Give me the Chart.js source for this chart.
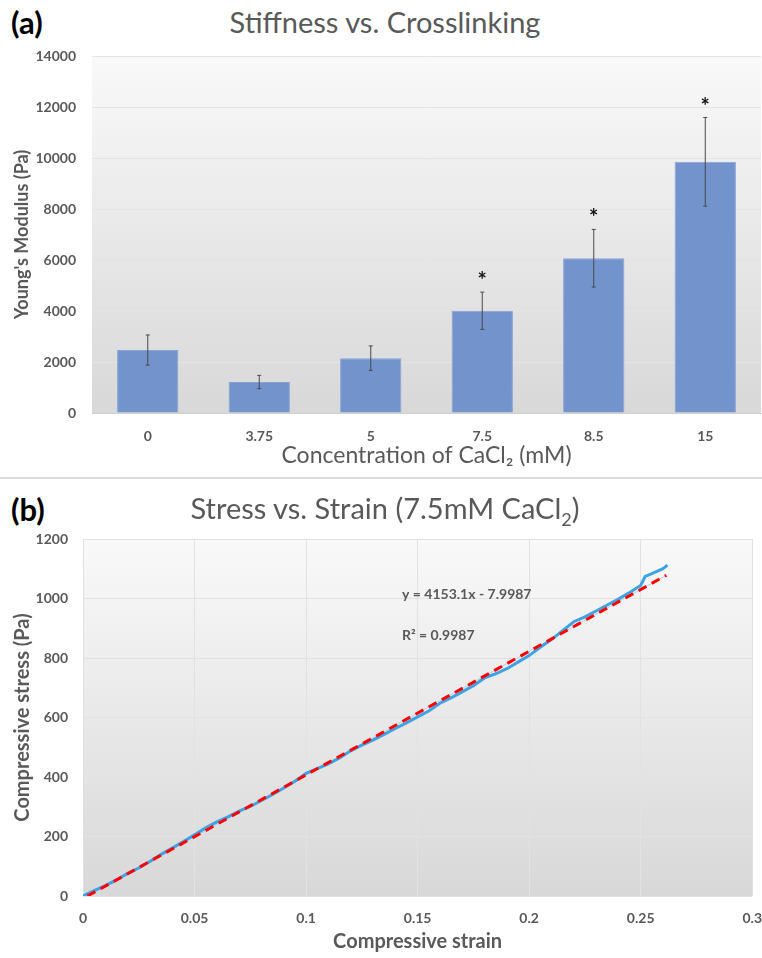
<!DOCTYPE html>
<html>
<head>
<meta charset="utf-8">
<script src="https://cdn.jsdelivr.net/npm/chart.js@4.4.1/dist/chart.umd.min.js"></script>
<style>
  body { margin: 0; background: #fff; font-family: Lato, "Open Sans", sans-serif; }
  #page { position: relative; width: 762px; height: 958px; overflow: hidden; }
  .panel { position: absolute; left: 0; width: 762px; }
  .tag { position: absolute; left: 11px; font-weight: bold; font-size: 31px; color: #000; }
  .title { position: absolute; left: 0; width: 770px; text-align: center; font-size: 29px; color: #595959; }
  .title sub { font-size: 18px; }
  #sep { position: absolute; left: 0; top: 477px; width: 762px; height: 2px; background: #dcdcdc; }
</style>
</head>
<body>
<div id="page">
  <div class="tag" style="top:3px">(a)</div>
  <div class="title" style="top:4px">Stiffness vs. Crosslinking</div>
  <div class="panel" style="top:40px;height:440px"><canvas id="barChart" width="762" height="440"></canvas></div>
  <div id="sep"></div>
  <div class="tag" style="top:490px">(b)</div>
  <div class="title" style="top:490px">Stress vs. Strain (7.5mM CaCl<sub>2</sub>)</div>
  <div class="panel" style="top:480px;height:478px"><canvas id="lineChart" width="762" height="478"></canvas></div>
</div>
<script>
// (a) Young's modulus by CaCl2 concentration
const concLabels = ['0', '3.75', '5', '7.5', '8.5', '15'];
const modulus = [2470, 1215, 2150, 4010, 6070, 9850];
const modulusErr = [590, 260, 480, 730, 1130, 1740];
const significant = [false, false, false, true, true, true];
const modulusTicks = [0, 2000, 4000, 6000, 8000, 10000, 12000, 14000];

// (b) stress-strain curve at 7.5 mM
const strain = [0, 0.005, 0.01, 0.015, 0.02, 0.025, 0.03, 0.035, 0.04, 0.045, 0.05, 0.055, 0.06, 0.065, 0.07,
  0.075, 0.08, 0.085, 0.09, 0.095, 0.1, 0.105, 0.11, 0.115, 0.12, 0.125, 0.13, 0.135, 0.14, 0.145, 0.15,
  0.155, 0.16, 0.165, 0.17, 0.175, 0.18, 0.185, 0.19, 0.195, 0.2, 0.205, 0.21, 0.215, 0.22, 0.225, 0.23,
  0.235, 0.24, 0.245, 0.25, 0.252, 0.255, 0.26, 0.262];
const stress = [0, 18, 35, 54, 76, 94, 116, 140, 161, 183, 206, 229, 249, 266, 285,
  301, 321, 341, 363, 386, 412, 428, 444, 464, 488, 507, 524, 543, 563, 582, 602,
  622, 648, 666, 686, 707, 733, 747, 764, 786, 808, 836, 862, 892, 922, 938, 958,
  978, 998, 1020, 1044, 1074, 1084, 1100, 1112];
const fitStrain = [0.002, 0.2615];
const fitStress = [0, 1078];
const strainTicks = [0, 0.05, 0.1, 0.15, 0.2, 0.25, 0.3];
const stressTicks = [0, 200, 400, 600, 800, 1000, 1200];
const fitEquation = 'y = 4153.1x - 7.9987';
const fitR2 = 'R\u00b2 = 0.9987';

Chart.defaults.font.family = 'Lato, "Open Sans", sans-serif';
Chart.defaults.color = '#595959';

const plotBackground = {
  id: 'plotBackground',
  beforeDraw(chart) {
    const { ctx, chartArea: a } = chart;
    const g = ctx.createLinearGradient(0, a.top, 0, a.bottom);
    g.addColorStop(0, '#f9f9f9');
    g.addColorStop(1, '#d8d8d8');
    ctx.save();
    ctx.fillStyle = g;
    ctx.fillRect(a.left, a.top, a.right - a.left, a.bottom - a.top);
    ctx.restore();
  }
};

const errorBars = {
  id: 'errorBars',
  afterDatasetsDraw(chart) {
    const { ctx } = chart;
    const y = chart.scales.y;
    const bars = chart.getDatasetMeta(0).data;
    ctx.save();
    bars.forEach((bar, i) => {
      const top = y.getPixelForValue(modulus[i] + modulusErr[i]);
      const bot = y.getPixelForValue(modulus[i] - modulusErr[i]);
      ctx.strokeStyle = '#4a4a4a';
      ctx.lineWidth = 1;
      ctx.beginPath();
      ctx.moveTo(bar.x, top); ctx.lineTo(bar.x, bot);
      ctx.moveTo(bar.x - 2, top); ctx.lineTo(bar.x + 2, top);
      ctx.moveTo(bar.x - 2, bot); ctx.lineTo(bar.x + 2, bot);
      ctx.stroke();
      if (significant[i]) {
        ctx.fillStyle = '#111';
        ctx.font = 'bold 22px Lato, sans-serif';
        ctx.textAlign = 'center';
        ctx.textBaseline = 'middle';
        ctx.fillText('*', bar.x, top - 11);
      }
    });
    ctx.restore();
  }
};

// tick marks kept invisible, their length only spaces the labels from the axis
const hiddenTicks = len => ({ drawTicks: true, tickLength: len, tickColor: 'rgba(0,0,0,0)' });

new Chart(document.getElementById('barChart'), {
  type: 'bar',
  data: {
    labels: concLabels,
    datasets: [{
      data: modulus,
      backgroundColor: '#7293cb',
      borderColor: '#86a3d6',
      borderWidth: 1,
      barPercentage: 0.55,
      categoryPercentage: 1
    }]
  },
  options: {
    responsive: false,
    animation: false,
    layout: { padding: { top: 16, right: 1, left: 0, bottom: 0 } },
    plugins: { legend: { display: false }, tooltip: { enabled: false } },
    scales: {
      x: {
        grid: { drawOnChartArea: false, ...hiddenTicks(15) },
        border: { color: '#d0d0d0' },
        ticks: { padding: 0, font: { size: 14, weight: 'bold' } },
        title: { display: true, text: 'Concentration of CaCl\u2082 (mM)', font: { size: 23 }, padding: { top: 0, bottom: 11 } },
        afterFit: s => { s.height = 67; }
      },
      y: {
        min: 0, max: 14000,
        afterBuildTicks: s => { s.ticks = modulusTicks.map(v => ({ value: v })); },
        grid: { color: '#e4e4e4', ...hiddenTicks(16) },
        border: { display: false },
        ticks: { padding: 0, font: { size: 14, weight: 'bold' }, callback: v => String(v) },
        title: { display: true, text: "Young's Modulus (Pa)", font: { size: 18, weight: 'bold' }, padding: { top: 11, bottom: 0 } },
        afterFit: s => { s.width = 92; }
      }
    }
  },
  plugins: [plotBackground, errorBars]
});

const fitLabel = {
  id: 'fitLabel',
  afterDatasetsDraw(chart) {
    const { ctx } = chart;
    ctx.save();
    ctx.fillStyle = '#595959';
    ctx.font = 'bold 14px Lato, sans-serif';
    ctx.textAlign = 'left';
    ctx.textBaseline = 'middle';
    ctx.fillText(fitEquation, chart.scales.x.getPixelForValue(0.143), chart.scales.y.getPixelForValue(1012));
    ctx.fillText(fitR2, chart.scales.x.getPixelForValue(0.143), chart.scales.y.getPixelForValue(877));
    ctx.restore();
  }
};

new Chart(document.getElementById('lineChart'), {
  type: 'line',
  data: {
    datasets: [
      {
        data: fitStrain.map((x, i) => ({ x, y: fitStress[i] })),
        borderColor: '#ff0000',
        borderWidth: 3,
        borderDash: [9, 6],
        pointRadius: 0,
        order: 0
      },
      {
        data: strain.map((x, i) => ({ x, y: stress[i] })),
        borderColor: '#3fa3e3',
        borderWidth: 3,
        pointRadius: 0,
        order: 1
      },
      {
        data: fitStrain.map((x, i) => ({ x, y: fitStress[i] })),
        borderColor: '#b3cde8',
        borderWidth: 1,
        pointRadius: 0,
        order: 2
      }
    ]
  },
  options: {
    responsive: false,
    animation: false,
    layout: { padding: { top: 59, right: 0, left: 0, bottom: 0 } },
    plugins: { legend: { display: false }, tooltip: { enabled: false } },
    scales: {
      x: {
        type: 'linear', min: 0, max: 0.3,
        afterBuildTicks: s => { s.ticks = strainTicks.map(v => ({ value: v })); },
        grid: { color: '#e2e2e2', ...hiddenTicks(14) },
        border: { display: false },
        ticks: { padding: 0, font: { size: 14, weight: 'bold' }, callback: v => String(v) },
        title: { display: true, text: 'Compressive strain', font: { size: 20, weight: 'bold' }, padding: { top: 0, bottom: 4 } },
        afterFit: s => { s.height = 62; }
      },
      y: {
        min: 0, max: 1200,
        afterBuildTicks: s => { s.ticks = stressTicks.map(v => ({ value: v })); },
        grid: { color: '#e2e2e2', ...hiddenTicks(15) },
        border: { display: false },
        ticks: { padding: 0, font: { size: 14, weight: 'bold' }, callback: v => String(v) },
        title: { display: true, text: 'Compressive stress (Pa)', font: { size: 20, weight: 'bold' }, padding: { top: 11, bottom: 0 } },
        afterFit: s => { s.width = 83; }
      }
    }
  },
  plugins: [plotBackground, fitLabel]
});
</script>
</body>
</html>
